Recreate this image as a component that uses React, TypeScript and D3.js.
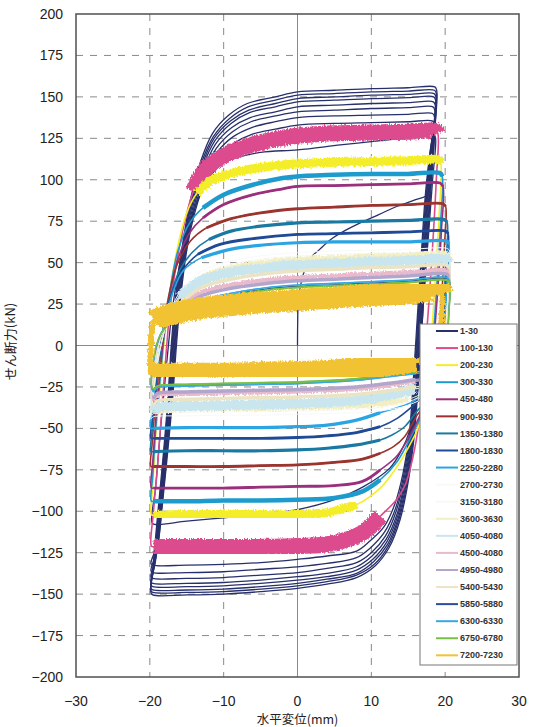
import React from "react";
import * as d3 from "d3";

type Pt = [number, number];

// ---------- axes ----------
const xTicks = [-30, -20, -10, 0, 10, 20, 30];
const yTicks = [-200, -175, -150, -125, -100, -75, -50, -25, 0, 25, 50, 75, 100, 125, 150, 175, 200];

// ---------- cycles 1-30 (outer loops, outermost first) ----------
const c1_30a: Pt[] = [[-19.85,-149],[-19.6,-135],[-19.0,-105],[-18.3,-72],[-17.6,-35],[-17.1,0],[-16.5,30],[-15.6,60],[-14.5,88],[-13.2,110],[-11.5,128],[-9.3,139],[-6.8,146],[-3,150],[0,153],[5,154],[10,155],[15,155.5],[18.6,156],[18.85,154],
  [18.6,130],[18.0,90],[17.4,50],[16.9,15],[16.4,-20],[15.8,-55],[15.0,-82],[13.9,-105],[12.4,-122],[10.5,-133],[8,-140],[4,-144],[0,-146.5],[-5,-148.5],[-10,-150],[-15,-150.5],[-19.6,-150.5]];
const c1_30b: Pt[] = [[-19.85,-148],[-19.5,-134],[-18.9,-104],[-18.2,-71],[-17.5,-34],[-17.0,0],[-16.4,30],[-15.5,60],[-14.4,87],[-13.1,109],[-11.4,126],[-9.2,137],[-6.7,144],[-3,148],[0,151],[5,152],[10,153],[15,153.5],[18.55,154],[18.8,152],
  [18.5,128],[17.9,90],[17.3,50],[16.8,15],[16.3,-20],[15.7,-55],[14.9,-81.5],[13.8,-104],[12.3,-121],[10.4,-132],[8,-138.5],[4,-142.5],[0,-145],[-5,-147],[-10,-148.5],[-15,-149],[-19.6,-149]];
const c1_30c: Pt[] = [[-19.85,-146.5],[-19.4,-133],[-18.8,-103],[-18.1,-70],[-17.4,-34],[-16.9,0],[-16.3,30],[-15.4,60],[-14.3,87],[-13.0,108],[-11.3,125],[-9.1,135.5],[-6.6,142],[-3,146],[0,149],[5,150],[10,151],[15,151.5],[18.5,152],[18.75,150],
  [18.4,126],[17.8,90],[17.2,50],[16.7,15],[16.2,-20],[15.6,-55],[14.8,-81],[13.7,-103.5],[12.2,-120],[10.3,-130.5],[8,-137.5],[4,-141],[0,-143.5],[-5,-145.5],[-10,-147],[-15,-147.5],[-19.6,-147.5]];
const c1_30d: Pt[] = [[-19.85,-144.5],[-19.3,-131],[-18.7,-102],[-18.0,-69],[-17.3,-33],[-16.8,0],[-16.2,30],[-15.3,60],[-14.2,86],[-12.9,107],[-11.2,123.5],[-9.0,134],[-6.5,140.5],[-3,144],[0,147],[5,148],[10,149],[15,149.5],[18.45,150],[18.7,148],
  [18.3,124],[17.7,90],[17.1,50],[16.6,15],[16.1,-20],[15.5,-55],[14.7,-80.5],[13.6,-102.5],[12.1,-118.5],[10.2,-129],[8,-135.5],[4,-139.5],[0,-141.5],[-5,-143.5],[-10,-145],[-15,-145.5],[-19.6,-145.5]];
const c1_30e: Pt[] = [[-19.85,-142.5],[-19.2,-129],[-18.6,-101],[-17.9,-68],[-17.2,-33],[-16.7,0],[-16.1,30],[-15.2,60],[-14.1,85],[-12.8,105],[-11.1,121.5],[-8.9,131.5],[-6.4,137.5],[-3,141],[0,144],[5,145],[10,146],[15,146.5],[18.4,147],[18.65,145],
  [18.2,122],[17.6,90],[17.0,50],[16.5,15],[16.0,-20],[15.4,-55],[14.6,-80],[13.5,-101.5],[12.0,-117],[10.1,-127],[8,-133.5],[4,-137.5],[0,-139.5],[-5,-141.5],[-10,-143],[-15,-143.5],[-19.6,-143.5]];
const c1_30f: Pt[] = [[-19.85,-139.5],[-19.1,-126],[-18.5,-100],[-17.8,-67],[-17.1,-32],[-16.6,0],[-16.0,30],[-15.1,60],[-14.0,84],[-12.7,103.5],[-11.0,119],[-8.8,129],[-6.3,135],[-3,138.5],[0,141],[5,142],[10,143],[15,143.5],[18.35,144],[18.6,142],
  [18.1,120],[17.5,90],[16.9,50],[16.4,15],[15.9,-20],[15.3,-55],[14.5,-79],[13.4,-99.5],[11.9,-115],[10.0,-125],[8,-131],[4,-134.5],[0,-137],[-5,-138.5],[-10,-140],[-15,-140.5],[-19.6,-140.5]];
const c1_30g: Pt[] = [[-19.85,-136],[-19.0,-123],[-18.4,-98],[-17.7,-66],[-17.0,-32],[-16.5,0],[-15.9,30],[-15.0,60],[-13.9,83],[-12.6,102],[-10.9,116.5],[-8.7,126],[-6.2,131.5],[-3,135],[0,137.5],[5,138.5],[10,139],[15,139.5],[18.3,140],[18.55,138],
  [18.0,118],[17.4,90],[16.8,50],[16.3,15],[15.8,-20],[15.2,-55],[14.4,-78],[13.3,-98],[11.8,-112.5],[9.9,-122],[8,-128],[4,-131.5],[0,-133.5],[-5,-135],[-10,-136.5],[-15,-137],[-19.6,-137]];
const c1_30h: Pt[] = [[-19.85,-131.5],[-18.9,-119],[-18.3,-96],[-17.6,-65],[-16.9,-31],[-16.4,0],[-15.8,30],[-14.9,60],[-13.8,82],[-12.5,99],[-10.8,113],[-8.6,122],[-6.1,127.5],[-3,130.5],[0,133],[5,134],[10,134.5],[15,135],[18.25,135.5],[18.5,134],
  [17.9,115],[17.3,90],[16.7,50],[16.2,15],[15.7,-20],[15.1,-55],[14.3,-77],[13.2,-95.5],[11.7,-109.5],[9.8,-118],[8,-124],[4,-127],[0,-129],[-5,-131],[-10,-132],[-15,-132.5],[-19.6,-132.5]];
const c1_30i: Pt[] = [[-19.7,-107],[-19.2,-85],[-18.5,-48],[-17.7,-10],[-17.0,20],[-16.0,48],[-14.8,70],[-13.3,90],[-11.5,104],[-9.6,111],[-5,116.5],[0,118],[5.8,121],[10,123],[15,125.5],[18.5,127],[18.7,125],
  [18.3,100],[17.8,70],[17.2,35],[16.7,0],[16.2,-30],[15.3,-50],[14,-64],[12.5,-74],[9,-85],[5,-93],[0,-99],[-5,-102],[-10,-104],[-15,-106],[-19.3,-108]];
// first loading from the origin
const c1_30first: Pt[] = [[0,0],[0.02,12],[0.1,25],[0.5,38],[1.1,47],[1.7,52.5],[3,58],[4.5,64],[6.3,69],[8.5,74],[11,79],[13.5,84],[16,88],[17.6,91],[18.2,105],[18.6,130],[18.85,152]];

// ---------- later cycle groups ----------
const c100_130: Pt[] = [[-19.8,-121],[-19.5,-100],[-19.0,-75],[-18.4,-40],[-17.8,-5],[-17.2,25],[-16.3,52],[-15.2,76],[-14.1,93],[-12.5,106],[-10,114.5],[-7,120],[-3,124.5],[0,126.5],[5,128],[10,128.5],[15,129],[18.7,129.5],[19.0,128],
  [18.8,100],[18.3,60],[17.7,20],[17.1,-15],[16.5,-45],[15.6,-68],[14.6,-84],[13.4,-93],[11.2,-103],[8.8,-113],[4.5,-119.5],[0,-121],[-5,-121.5],[-10,-121.5],[-15,-121.5],[-19.5,-121.5]];
const c200_230: Pt[] = [[-19.8,-102],[-19.6,-85],[-19.2,-55],[-18.6,-25],[-18.0,5],[-17.3,32],[-16.3,58],[-15,80],[-13.6,92],[-11.5,100],[-8,105],[-4,108],[0,109.5],[5,110.5],[10,111],[15,111.5],[19.1,112],[19.4,110],
  [19.2,80],[18.8,50],[18.3,15],[17.8,-12],[17.1,-35],[16.3,-50],[15.2,-60],[13.5,-73],[11.2,-86],[8,-96],[4.5,-100.5],[0,-102],[-5,-102],[-10,-102],[-15,-102],[-19.5,-102.5]];
const c300_330: Pt[] = [[-19.8,-94],[-19.6,-78],[-19.2,-50],[-18.6,-20],[-18,8],[-17.2,35],[-16.2,57],[-14.6,74],[-12.8,83],[-10,91],[-6,97],[-2,101],[0,102],[5,103],[10,103.5],[15,103.5],[19.3,104],[19.6,102],
  [19.4,75],[19.0,45],[18.5,12],[18,-15],[17.3,-35],[16.4,-46],[15.6,-53],[13.5,-70],[11.2,-81],[8.8,-88],[5,-92],[0,-93],[-5,-93.5],[-10,-93.5],[-15,-94],[-19.5,-94]];
const c450_480: Pt[] = [[-19.8,-86],[-19.6,-70],[-19.2,-45],[-18.6,-15],[-18,10],[-17.2,33],[-16.2,52],[-14.6,68],[-12.8,77],[-10,85],[-6,91],[-2,94.5],[0,96],[5,96.5],[10,97],[15,97.5],[19.3,98],[19.7,96],
  [19.5,70],[19.1,40],[18.6,10],[18.1,-15],[17.4,-32],[16.6,-42],[15.4,-53],[13.4,-67],[11.2,-75],[8.8,-82],[5,-84.5],[0,-85],[-5,-85.5],[-10,-86],[-15,-86],[-19.5,-86]];
const c900_930: Pt[] = [[-19.85,-73],[-19.7,-60],[-19.3,-38],[-18.7,-12],[-18.1,12],[-17.3,33],[-16.2,50],[-14.5,63],[-12.3,71],[-9,76.5],[-5,80],[0,82.5],[5,83.5],[10,84.5],[15,85],[19.7,85.5],[20.05,84],
  [19.9,60],[19.6,35],[19.2,10],[18.7,-12],[18,-28],[17.1,-37],[16.2,-42],[14.5,-55],[13,-61],[11.2,-65],[8.8,-68.5],[5,-70.5],[0,-72],[-5,-72.5],[-10,-73],[-15,-73],[-19.5,-73]];
const c1350_1380: Pt[] = [[-19.85,-64],[-19.7,-52],[-19.3,-32],[-18.7,-8],[-18.1,12],[-17.2,30],[-16,45],[-14.3,56],[-12,64],[-9,69],[-5,72],[0,74],[5,74.5],[10,75],[15,75.5],[19.9,76],[20.25,74.5],
  [20.1,50],[19.8,25],[19.4,0],[18.8,-20],[17.8,-32],[16.3,-39],[14.5,-49],[12.8,-54],[11.2,-57],[8,-60],[4,-62],[0,-63],[-5,-63.5],[-10,-63.5],[-15,-63.5],[-19.5,-64]];
const c1800_1830: Pt[] = [[-19.85,-56],[-19.7,-45],[-19.3,-27],[-18.7,-5],[-18.0,15],[-17,32],[-15.6,45],[-13.5,55],[-10.5,61],[-6,64.5],[0,67],[5,67.5],[10,68],[15,68.5],[20.1,69],[20.4,67.5],
  [20.2,45],[19.9,20],[19.5,-2],[18.9,-20],[17.8,-30],[16.5,-33],[15.5,-37],[13.5,-44],[11.2,-49],[8,-52.5],[4,-54.5],[0,-55.5],[-5,-56],[-10,-56],[-15,-56],[-19.5,-56]];
const c2250_2280: Pt[] = [[-19.85,-50],[-19.7,-40],[-19.3,-22],[-18.6,-2],[-17.9,16],[-16.8,33],[-15.5,45],[-13,53],[-9.1,58],[-5,60.5],[0,62],[5,62.5],[10,62.5],[15,62.5],[20.2,63],[20.5,61.5],
  [20.3,40],[20.0,18],[19.6,-2],[19,-18],[17.8,-27],[16.5,-31],[15.6,-34],[13.5,-37.5],[11.2,-40.5],[8,-45],[4,-48],[0,-49],[-5,-49.5],[-10,-49.5],[-15,-49.5],[-19.5,-50]];
const c2700_2730: Pt[] = [[-19.8,-44],[-19.5,-30],[-19,-12],[-18.3,4],[-17.3,20],[-15.5,35],[-12.5,46],[-8,52],[-3,55],[0,56],[5,57],[10,57.5],[15,58],[20.3,58.5],[20.6,57],
  [20.4,35],[20.1,12],[19.7,-5],[19,-20],[17.5,-30],[15,-36],[11,-39.5],[5,-41],[0,-41.5],[-5,-42],[-10,-42],[-15,-42.5],[-19.5,-43]];
const c3150_3180: Pt[] = [[-19.8,-42],[-19.5,-28],[-19,-11],[-18.3,4],[-17.3,19],[-15.5,33],[-12.5,44],[-8,50],[-3,53],[0,54],[5,55],[10,55.5],[15,56],[20.3,56.5],[20.6,55],
  [20.4,33],[20.1,11],[19.7,-5],[19,-19],[17.5,-28],[15,-34],[11,-37.5],[5,-39],[0,-39.5],[-5,-40],[-10,-40],[-15,-40.5],[-19.5,-41]];
const c3600_3630: Pt[] = [[-19.8,-40],[-19.5,-26],[-19,-10],[-18.3,4],[-17.3,18],[-15.5,31],[-12.5,42],[-8,48],[-3,51],[0,52],[5,53],[10,54],[15,54.5],[20.3,55],[20.6,53.5],
  [20.4,32],[20.1,10],[19.7,-5],[19,-18],[17.5,-27],[15,-32.5],[11,-35.5],[5,-37],[0,-37.5],[-5,-38],[-10,-38],[-15,-38.5],[-19.3,-40]];
const c4050_4080: Pt[] = [[-19.8,-38],[-19.6,-25],[-19.2,-10],[-18.6,4],[-17.6,17],[-16,29],[-13,39],[-9,44],[-4,47],[0,48.5],[5,49.5],[10,50.5],[15,51],[20.2,52],[20.6,50],
  [20.5,30],[20.3,10],[20,-8],[19.5,-20],[18.3,-25],[16,-26],[13,-29.5],[8,-33],[0,-35],[-5,-35.5],[-10,-36],[-15,-36.5],[-19,-37.5],[-19.5,-40]];
const c4500_4530: Pt[] = [[-19.8,-30],[-19.6,-18],[-19.2,-5],[-18.5,6],[-17.5,15],[-16,24],[-13,32],[-9,36.5],[-4,39.5],[0,41],[5,42],[10,43],[15,44],[20.2,45],[20.6,43],
  [20.5,25],[20.3,8],[20,-6],[19.5,-15],[18.3,-20],[16,-21.5],[13,-23.5],[8,-26],[0,-27.5],[-5,-28],[-10,-28.5],[-15,-29],[-19,-30],[-19.5,-33]];
const c4950_4980: Pt[] = [[-19.8,-28],[-19.6,-16],[-19.2,-4],[-18.5,6],[-17.5,14],[-16,22],[-13,30],[-9,34.5],[-4,37.5],[0,39],[5,40],[10,41],[15,42],[20.2,43],[20.6,41],
  [20.5,24],[20.3,7],[20,-6],[19.5,-14],[18.3,-19],[16,-20.5],[13,-22.5],[8,-25],[0,-26.5],[-5,-27],[-10,-27.5],[-15,-28],[-19,-29],[-19.5,-32]];
const c5400_5430: Pt[] = [[-19.8,-33],[-19.6,-21],[-19.2,-7],[-18.5,5],[-17.5,15],[-16,25],[-13,35],[-9,40],[-4,43.5],[0,45],[5,46],[10,47],[15,47.5],[20.2,48.5],[20.6,46.5],
  [20.5,28],[20.3,9],[20,-7],[19.5,-17],[18.3,-23],[16,-25],[13,-27],[8,-29.5],[0,-31],[-5,-31.5],[-10,-32],[-15,-32.5],[-19,-33.5],[-19.5,-36]];
const c5850_5880: Pt[] = [[-19.8,-24],[-19.6,-12],[-19.2,-2],[-18.5,7],[-17.5,13],[-16,19],[-13,26],[-9,30.5],[-4,34],[0,35.5],[5,36.5],[10,37.5],[15,38.5],[20.2,40],[20.6,38],
  [20.5,20],[20.3,5],[20,-6],[19.5,-12],[18.3,-15],[16,-16.5],[13,-18],[8,-20.5],[0,-22.5],[-5,-23],[-10,-23.5],[-15,-24],[-19,-25],[-19.5,-27]];
const c6300_6330: Pt[] = [[-19.8,-25],[-19.6,-13],[-19.2,-2],[-18.5,7.5],[-17.5,14],[-16,20],[-13,27],[-9,31.5],[-4,35],[0,36.5],[5,37.5],[10,38.5],[15,39.5],[20.2,41],[20.6,39],
  [20.5,21],[20.3,5],[20,-6.5],[19.5,-12.5],[18.3,-15.5],[16,-17],[13,-18.5],[8,-21],[0,-23],[-5,-23.5],[-10,-24],[-15,-24.5],[-19,-25.5],[-19.5,-28]];
const c6750_6780: Pt[] = [[-19.8,-23],[-19.6,-11],[-19.2,-1],[-18.5,7],[-17.5,12.5],[-16,18.5],[-13,25.5],[-9,30],[-4,33.5],[0,35],[5,36],[10,37],[15,38],[20.2,39.5],[20.6,37.5],
  [20.5,19],[20.3,4],[20,-5.5],[19.5,-11.5],[18.3,-14.5],[16,-16],[13,-17.5],[8,-20],[0,-22],[-5,-22.5],[-10,-23],[-15,-23.5],[-19,-24.5],[-19.5,-26.5]];
const c7200_7230: Pt[] = [[-19.9,-15],[-19.85,0],[-19.7,10],[-19.3,15],[-18.5,17],[-17,19],[-14,22],[-10,24],[-5,26],[0,27.5],[5,29],[10,30.5],[15,31.5],[19.3,33],[19.6,31],
  [19.5,15],[19.3,0],[18.9,-7],[17.5,-9],[16,-9.5],[13,-11.5],[10,-13],[5,-15],[0,-16],[-5,-16.5],[-10,-17],[-15,-17],[-19,-17],[-19.6,-17]];

// ---------- series styling / legend ----------
const seriesNames = ["1-30", "100-130", "200-230", "300-330", "450-480", "900-930", "1350-1380", "1800-1830", "2250-2280", "2700-2730",
  "3150-3180", "3600-3630", "4050-4080", "4500-4080", "4950-4980", "5400-5430", "5850-5880", "6300-6330", "6750-6780", "7200-7230"];
const seriesColors = ["#27306b", "#dc4c8d", "#f4ee2c", "#1d9bcc", "#9a2f7c", "#9b342e", "#1a79a2", "#1e4a96", "#2aa4e2", "#f9f9f9",
  "#f8f8f6", "#f3efc4", "#c9e5ee", "#e9bacb", "#b3a6cc", "#ebe4c4", "#2c4c9c", "#3aa8e0", "#78c043", "#f1c232"];
// thin trace width, and the width of the scatter band along the yield plateaus
const lineWidths = [1.3, 1.6, 1.6, 1.6, 1.6, 1.6, 1.6, 1.6, 1.6, 1, 1, 1, 1.2, 1.2, 1.2, 1.2, 1.2, 1.2, 1.5, 6];
const bandWidths = [0, 16, 9, 4.5, 2.8, 2.8, 3.2, 2.8, 3.2, 0, 0, 5, 10, 5, 3.5, 3.5, 1.6, 1.6, 2, 22];
const bandFrom = [0, -15, -14, -13, -13, -13, -13, -14, -14, 0, 0, -17, -17, -17, -17, -17, -17, -17, -17, -19.5];
const bandTo = [0, 13, 11, 11.5, 11.5, 12, 12, 13, 13, 0, 0, 16, 16, 16, 16, 16, 16, 16, 16, 17];
const seriesLoops: Pt[][][] = [
  [c1_30a, c1_30b, c1_30c, c1_30d, c1_30e, c1_30f, c1_30g, c1_30h, c1_30i],
  [c100_130], [c200_230], [c300_330], [c450_480], [c900_930], [c1350_1380], [c1800_1830], [c2250_2280], [c2700_2730],
  [c3150_3180], [c3600_3630], [c4050_4080], [c4500_4530], [c4950_4980], [c5400_5430], [c5850_5880], [c6300_6330], [c6750_6780], [c7200_7230],
];

const W = 533, H = 727;
const x = d3.scaleLinear().domain([-30, 30]).range([76, 519]);
const y = d3.scaleLinear().domain([-200, 200]).range([677, 14]);

const loopPath = d3.line<Pt>().x(d => x(d[0])).y(d => y(d[1])).curve(d3.curveCatmullRomClosed.alpha(0.5));
const openPath = d3.line<Pt>().x(d => x(d[0])).y(d => y(d[1])).curve(d3.curveCatmullRom.alpha(0.5));

// split a loop at its right-hand turning point into the two plateau runs
function plateaus(pts: Pt[], from: number, to: number): Pt[][] {
  const iTurn = d3.maxIndex(pts, p => p[0]);
  const upper = pts.slice(0, iTurn + 1).filter(p => p[0] >= from);
  const lower = pts.slice(iTurn + 1).filter(p => p[0] <= to);
  return [upper, lower];
}

const fmt = (v: number) => (v < 0 ? "\u2212" + Math.abs(v) : String(v));
const SANS = "'Liberation Sans', Arial, sans-serif";
const CJK = "'Noto Sans CJK JP', sans-serif";

export default function App() {
  const [x0, x1] = x.range();
  const [yb, yt] = y.range();
  const legX = 420, legY = 324, legW = 97, legH = 341, legRow = 17.07, legFirst = 331;
  return (
    <div style={{ position: "absolute", left: 0, top: 0 }}>
      <svg width={W} height={H} style={{ display: "block", background: "#fff" }}>
        <defs>
          <clipPath id="plotArea">
            <rect x={x0} y={yt} width={x1 - x0} height={yb - yt} />
          </clipPath>
          <filter id="scatter" x="-5%" y="-20%" width="110%" height="140%">
            <feTurbulence type="fractalNoise" baseFrequency="0.7 0.35" numOctaves={2} seed={4} result="n" />
            <feDisplacementMap in="SourceGraphic" in2="n" scale={5} xChannelSelector="R" yChannelSelector="G" />
          </filter>
        </defs>
        {/* grid */}
        {xTicks.filter(t => t !== 0 && Math.abs(t) !== 30).map(t => (
          <line key={"gx" + t} x1={x(t)} x2={x(t)} y1={yt} y2={yb} stroke="#8a8a8a" strokeWidth={1} strokeDasharray="7,7" />
        ))}
        {yTicks.filter(t => t !== 0 && Math.abs(t) !== 200).map(t => (
          <line key={"gy" + t} x1={x0} x2={x1} y1={y(t)} y2={y(t)} stroke="#8a8a8a" strokeWidth={1} strokeDasharray="7,7" />
        ))}
        <line x1={x(0)} x2={x(0)} y1={yt} y2={yb} stroke="#8a8a8a" strokeWidth={1} />
        <line x1={x0} x2={x1} y1={y(0)} y2={y(0)} stroke="#8a8a8a" strokeWidth={1} />

        {/* hysteresis loops */}
        <g clipPath="url(#plotArea)" fill="none" strokeLinejoin="round">
          {seriesLoops.map((loops, i) => (
            <g key={"s" + i} stroke={seriesColors[i]}>
              {loops.map((pts, j) => (
                <path key={j} d={loopPath(pts) || ""} strokeWidth={lineWidths[i]}
                  filter={lineWidths[i] >= 5 ? "url(#scatter)" : undefined} />
              ))}
              {i === 0 && <path d={openPath(c1_30first) || ""} strokeWidth={lineWidths[i]} />}
              {bandWidths[i] > 0 && loops.map((pts, j) =>
                plateaus(pts, bandFrom[i], bandTo[i]).map((seg, k) => (
                  <path key={"b" + j + k} d={openPath(seg) || ""} strokeWidth={bandWidths[i]}
                    filter={bandWidths[i] >= 5 ? "url(#scatter)" : undefined} />
                ))
              )}
            </g>
          ))}
        </g>

        {/* frame */}
        <rect x={x0} y={yt} width={x1 - x0} height={yb - yt} fill="none" stroke="#505050" strokeWidth={1.5} />

        {/* legend */}
        <rect x={legX} y={legY} width={legW} height={legH} fill="#fff" stroke="#777" strokeWidth={1} />
        {seriesNames.map((name, i) => {
          const yy = legFirst + i * legRow;
          return (
            <g key={"l" + i}>
              <line x1={436} x2={458} y1={yy} y2={yy} stroke={seriesColors[i]} strokeWidth={2} />
              <text x={460} y={yy} dy="0.35em" fontSize={9} fontWeight="bold" fontFamily={SANS} fill="#333">{name}</text>
            </g>
          );
        })}

        {/* tick labels */}
        {yTicks.map(t => (
          <text key={"ty" + t} x={63} y={y(t)} dy="0.36em" textAnchor="end" fontSize={14} fontFamily={SANS} fill="#222">{fmt(t)}</text>
        ))}
        {xTicks.map(t => (
          <text key={"tx" + t} x={x(t)} y={706} textAnchor="middle" fontSize={14} fontFamily={SANS} fill="#222">{fmt(t)}</text>
        ))}

        {/* axis titles */}
        <text x={x(0)} y={724} textAnchor="middle" fontSize={12.5} fontFamily={CJK} fill="#222">水平変位(mm)</text>
        <text transform={`translate(15,${y(0) - 4}) rotate(-90)`} textAnchor="middle" fontSize={13} fontFamily={CJK} fill="#222">せん断力(kN)</text>
      </svg>
    </div>
  );
}
